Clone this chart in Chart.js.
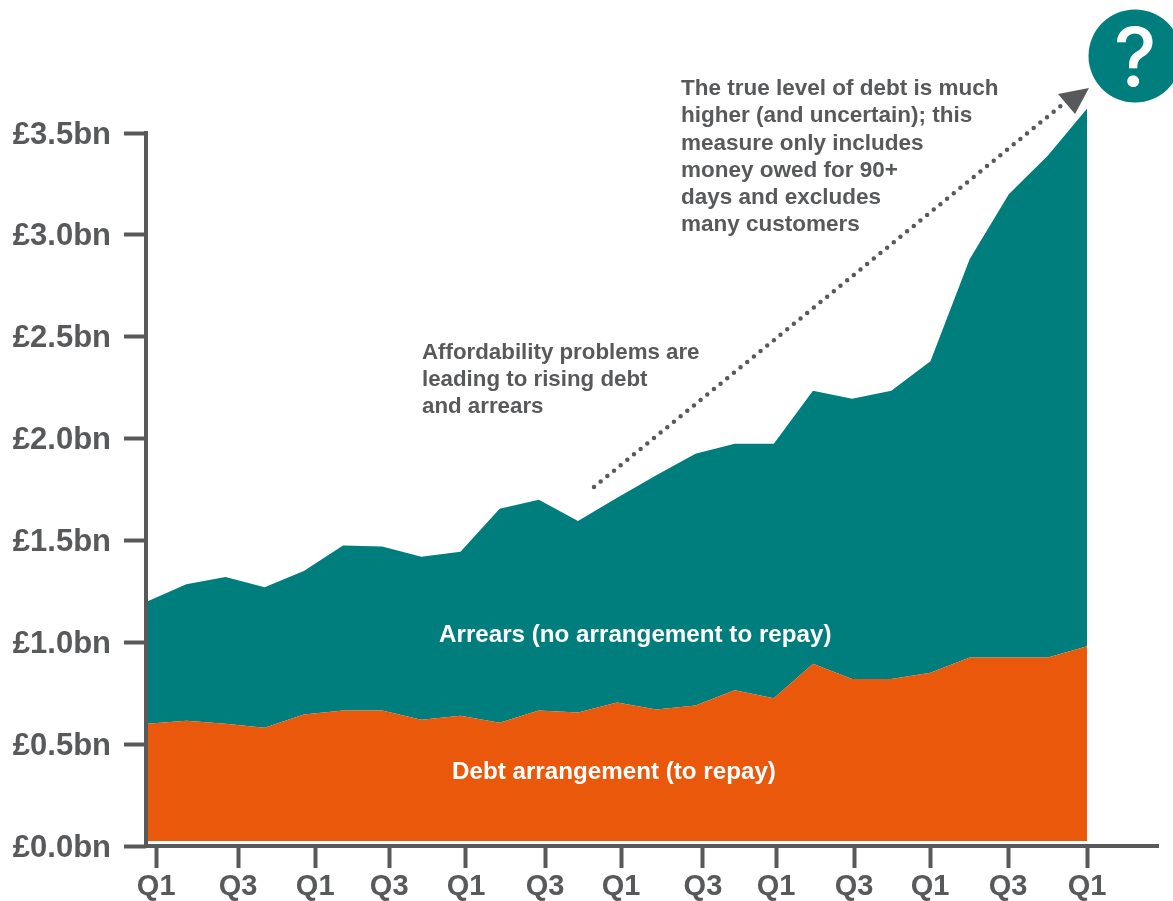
<!DOCTYPE html>
<html>
<head>
<meta charset="utf-8">
<style>
  html, body { margin: 0; padding: 0; background: #fff; overflow: hidden; }
  #wrap { width: 1173px; height: 901px; }
</style>
<script src="https://cdn.jsdelivr.net/npm/chart.js@4"></script>
</head>
<body>
<div id="wrap"><canvas id="debtChart" width="1173" height="901"></canvas></div>
<script>
// one point per quarter
const quarters = [0, 1, 2, 3, 4, 5, 6, 7, 8, 9, 10, 11, 12, 13, 14, 15, 16, 17, 18, 19, 20, 21, 22, 23, 24];
const debtArrangement = [0.60, 0.615, 0.60, 0.58, 0.645, 0.665, 0.665, 0.62, 0.64, 0.605, 0.665, 0.655, 0.705, 0.67, 0.69, 0.765, 0.725, 0.895, 0.82, 0.82, 0.85, 0.925, 0.925, 0.925, 0.98];
const arrears = [0.60, 0.67, 0.72, 0.69, 0.705, 0.81, 0.805, 0.80, 0.805, 1.05, 1.035, 0.94, 1.005, 1.15, 1.235, 1.21, 1.25, 1.34, 1.375, 1.415, 1.53, 1.955, 2.275, 2.465, 2.64];

const xTicks = [0.23, 2.32, 4.29, 6.18, 8.14, 10.16, 12.1, 14.19, 16.06, 18.05, 19.99, 21.98, 24];
const xTickLabels = ['Q1', 'Q3', 'Q1', 'Q3', 'Q1', 'Q3', 'Q1', 'Q3', 'Q1', 'Q3', 'Q1', 'Q3', 'Q1'];
const yTicks = [0, 0.5, 1, 1.5, 2, 2.5, 3, 3.5];

const note1 = ['The true level of debt is much', 'higher (and uncertain); this', 'measure only includes', 'money owed for 90+', 'days and excludes', 'many customers'];
const note2 = ['Affordability problems are', 'leading to rising debt', 'and arrears'];

const GREY = '#58595b';
const TEAL = '#007d7d';
const ORANGE = '#ea580c';
const FONT = '"Liberation Sans", Arial, sans-serif';

// y axis line stops at the last tick, the teal area carries on above it
const yAxisLine = {
  id: 'yAxisLine',
  afterDatasetsDraw(chart) {
    const c = chart.ctx, y = chart.scales.y;
    c.save();
    c.strokeStyle = GREY;
    c.lineWidth = 4;
    c.beginPath();
    c.moveTo(y.right, y.getPixelForValue(3.5) - 2);
    c.lineTo(y.right, y.getPixelForValue(0) + 2);
    c.stroke();
    c.restore();
  }
};

// annotations on top of the areas
const annotations = {
  id: 'annotations',
  afterDraw(chart) {
    const c = chart.ctx;
    c.save();
    c.textBaseline = 'middle';
    c.textAlign = 'left';
    c.font = 'bold 22.5px ' + FONT;
    c.fillStyle = GREY;
    note1.forEach((t, i) => c.fillText(t, 681, 89 + i * 27.2));
    c.font = 'bold 22.3px ' + FONT;
    note2.forEach((t, i) => c.fillText(t, 422, 353 + i * 27));

    c.fillStyle = '#fff';
    c.font = 'bold 24.2px ' + FONT;
    c.fillText('Arrears (no arrangement to repay)', 439, 635);
    c.fillText('Debt arrangement (to repay)', 452, 772);

    // dotted arrow
    c.strokeStyle = GREY;
    c.lineWidth = 4.5;
    c.lineCap = 'round';
    c.setLineDash([0, 8.6]);
    c.beginPath();
    c.moveTo(594, 487);
    c.lineTo(1068, 100);
    c.stroke();
    c.setLineDash([]);
    c.fillStyle = GREY;
    c.beginPath();
    c.moveTo(1058, 94);
    c.lineTo(1089, 88);
    c.lineTo(1075, 114);
    c.closePath();
    c.fill();

    // question mark badge
    c.fillStyle = TEAL;
    c.beginPath();
    c.arc(1135, 56, 46.5, 0, Math.PI * 2);
    c.fill();
    c.fillStyle = '#fff';
    c.textAlign = 'center';
    c.textBaseline = 'alphabetic';
    c.font = '500 81px Inter, sans-serif';
    c.fillText('?', 1135, 86);
    c.restore();
  }
};

new Chart(document.getElementById('debtChart'), {
  type: 'line',
  data: {
    labels: quarters,
    datasets: [
      {
        label: 'Debt arrangement (to repay)',
        data: quarters.map((q, i) => ({ x: q, y: debtArrangement[i] })),
        backgroundColor: ORANGE,
        fill: { target: { value: 0.025 } },
        stack: 'debt'
      },
      {
        label: 'Arrears (no arrangement to repay)',
        data: quarters.map((q, i) => ({ x: q, y: arrears[i] })),
        backgroundColor: TEAL,
        fill: '-1',
        stack: 'debt'
      }
    ]
  },
  options: {
    responsive: false,
    animation: false,
    devicePixelRatio: 1,
    layout: { padding: { top: 92.3, right: 15, left: 0, bottom: 0 } },
    elements: { point: { radius: 0 }, line: { borderWidth: 0, tension: 0 } },
    plugins: { legend: { display: false }, tooltip: { enabled: false } },
    scales: {
      x: {
        type: 'linear',
        min: -0.03,
        max: 25.81,
        afterBuildTicks(axis) { axis.ticks = xTicks.map(v => ({ value: v })); },
        afterFit(axis) { axis.height = 55; },
        border: { color: GREY, width: 4 },
        grid: { drawOnChartArea: false, color: GREY, tickColor: GREY, tickWidth: 4, tickLength: 22 },
        ticks: {
          autoSkip: false,
          maxRotation: 0,
          padding: 2,
          color: GREY,
          font: { family: FONT, size: 29, weight: 'bold' },
          callback: (v, i) => xTickLabels[i]
        }
      },
      y: {
        stacked: true,
        min: 0,
        max: 3.7,
        afterBuildTicks(axis) { axis.ticks = yTicks.map(v => ({ value: v })); },
        afterFit(axis) { axis.width = 146; },
        border: { display: false },
        grid: { drawOnChartArea: false, color: GREY, tickColor: GREY, tickWidth: 4, tickLength: 22 },
        ticks: {
          padding: 13,
          labelOffset: 2,
          color: GREY,
          font: { family: FONT, size: 31, weight: 'bold' },
          callback: v => '£' + v.toFixed(1) + 'bn'
        }
      }
    }
  },
  plugins: [yAxisLine, annotations]
});
</script>
</body>
</html>
